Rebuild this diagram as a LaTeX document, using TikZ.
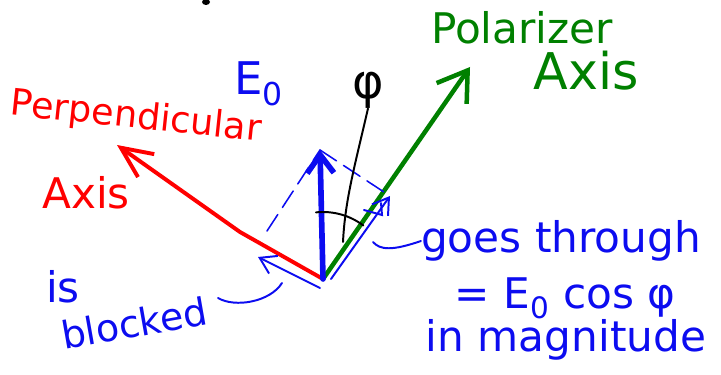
\documentclass[tikz,border=0pt]{standalone}
\usepackage{fontspec}
\setmainfont{DejaVu Sans}
\usepackage{xcolor}
\usepackage{tikz}
\usetikzlibrary{arrows.meta,positioning,calc}
\definecolor{penred}{RGB}{255,0,0}
\definecolor{penblue}{RGB}{12,12,240}
\definecolor{pengreen}{RGB}{0,128,0}
\tikzset{
  axperp/.style={penred,line width=2.8pt,line cap=round,line join=round,-{Straight Barb[length=22pt,width=20pt]}},
  axpol/.style={pengreen,line width=3.2pt,line cap=round,-{Straight Barb[length=20pt,width=26pt]}},
  vecfield/.style={penblue,line width=4pt,line cap=round,-{Straight Barb[length=13pt,width=19pt]}},
  vecthin/.style={penblue,line width=1.4pt,line cap=round,-{Straight Barb[length=11pt,width=14pt]}},
  vecdash/.style={penblue,line width=1.1pt,line cap=round,dash pattern=on 14pt off 6pt},
  penline/.style={line width=1.4pt,line cap=round},
  hwred/.style={text=penred,inner sep=0pt},
  hwgreen/.style={text=pengreen,inner sep=0pt},
  hwblue/.style={text=penblue,inner sep=0pt}
}

\begin{document}
\begin{tikzpicture}[x=0.025cm,y=-0.025cm]
  \useasboundingbox (0,0) rectangle (721,374);
  \coordinate (O) at (323,279);
  \coordinate (perpbend) at (240,232);
  \coordinate (perptip) at (117,145);
  \coordinate (poltip) at (470,67);
  \coordinate (Etip) at (320,150);
  \coordinate (Pstart) at (331,279);
  \coordinate (P) at (390,196);
  \coordinate (Qstart) at (320,288);
  \coordinate (Q) at (258,257);
  % labels
  \node[hwred,font=\fontsize{26}{30}\selectfont,rotate=-6] (lblperp) at (136,118) {Perpendicular};
  \node[hwred,font=\fontsize{30}{34}\selectfont] (lblperpaxis) at (86,193) {Axis};
  \node[hwgreen,font=\fontsize{30}{34}\selectfont] (lblpol) at (522,28) {Polarizer};
  \node[hwgreen,font=\fontsize{36}{40}\selectfont] (lblpolaxis) at (586,71) {Axis};
  \node[hwblue,font=\fontsize{32}{36}\selectfont] (lblE) at (259,84) {E\textsubscript{0}};
  \node[inner sep=0pt,font=\fontsize{34}{38}\selectfont] (lblphi) at (368,90) {φ};
  \node[hwblue,font=\fontsize{30}{34}\selectfont] (lblis) at (63,287) {is};
  \node[hwblue,font=\fontsize{27}{30}\selectfont,rotate=10] (lblblocked) at (134,323) {blocked};
  \node[hwblue,font=\fontsize{30}{34}\selectfont] (lblgoes) at (561,241) {goes through};
  \node[hwblue,font=\fontsize{30}{34}\selectfont] (lbleq) at (565,298) {= E\textsubscript{0} cos φ};
  \node[hwblue,font=\fontsize{30}{34}\selectfont] (lblmag) at (566,340) {in magnitude};
  % axes and field
  \draw[axperp] (O) -- (perpbend) -- (perptip);
  \draw[axpol] (O) -- (poltip);
  \draw[vecfield] (O) -- (Etip);
  % components
  \draw[vecdash] (267,231) -- (Etip);
  \draw[vecdash] (Etip) -- (P);
  \draw[vecthin] (Pstart) -- (P);
  \draw[vecthin] (Qstart) -- (Q);
  \draw[penblue,penline] (364,210) -- (382,215) -- (381,203);
  % angle
  \draw[penline] (O) ++(-96:67) arc[start angle=-96,end angle=-53,radius=67];
  \draw[penline] (lblphi.south) .. controls (355,165) and (345,200) .. (343,242);
  % pointers
  \draw[penblue,penline] (373,242) .. controls (380,250) and (392,251) .. (lblgoes.west);
  \draw[penblue,penline] (218,298) .. controls (235,308) and (270,302) .. (282,283);
  \fill (206,2) ellipse[x radius=4,y radius=3];
\end{tikzpicture}
\end{document}
